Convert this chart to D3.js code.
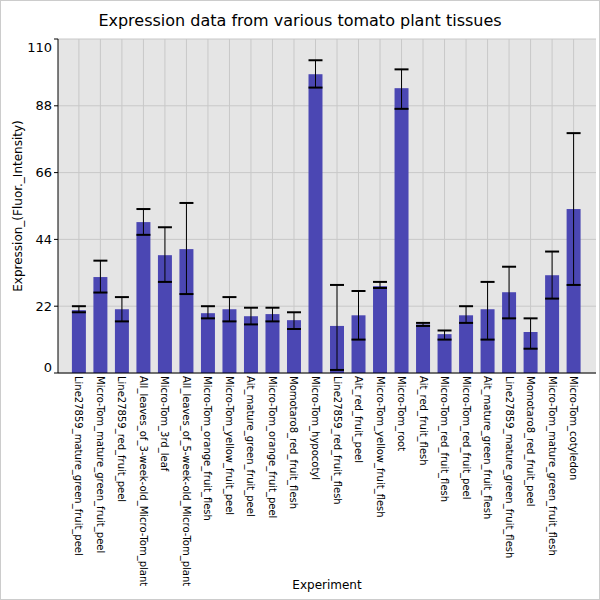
<!DOCTYPE html><html><head><script src="https://cdn.jsdelivr.net/npm/d3@7"></script>
<style>body{margin:0}svg{font-family:"DejaVu Sans",sans-serif}</style></head><body><script>
const categories=["Line27859_mature_green_fruit_peel","Micro-Tom_mature_green_fruit_peel","Line27859_red_fruit_peel","All_leaves_of_3-week-old_Micro-Tom_plant","Micro-Tom_3rd_leaf","All_leaves_of_5-week-old_Micro-Tom_plant","Micro-Tom_orange_fruit_flesh","Micro-Tom_yellow_fruit_peel","Ait_mature_green_fruit_peel","Micro-Tom_orange_fruit_peel","Momotaro8_red_fruit_flesh","Micro-Tom_hypocotyl","Line27859_red_fruit_flesh","Ait_red_fruit_peel","Micro-Tom_yellow_fruit_flesh","Micro-Tom_root","Ait_red_fruit_flesh","Micro-Tom_red_fruit_flesh","Micro-Tom_red_fruit_peel","Ait_mature_green_fruit_flesh","Line27859_mature_green_fruit_flesh","Momotaro8_red_fruit_peel","Micro-Tom_mature_green_fruit_flesh","Micro-Tom_cotyledon"];
const values=[20.7,31.6,21,49.7,38.8,40.8,19.7,21,18.7,19.4,17.4,98.4,15.5,19,28.6,93.8,16,12.8,19,21,26.6,13.5,32.2,54];
const errLow=[20,26.5,17,45.5,30,26,18,17,16,17,14.5,94,1,11,28,87,15.5,11,16.5,11,18,8,24.5,29];
const errHigh=[22,37,25,54,48,56,22,25,21.5,21.5,20,103,29,27,30,100,16.5,14,22,30,35,18,40,79];
const yTicks=[0,22,44,66,88,110];
const W=600,H=600,L=58,R=596,T=39,B=373;
const svg=d3.select("body").append("svg").attr("width",W).attr("height",H);
svg.append("rect").attr("x",0.5).attr("y",0.5).attr("width",W-1).attr("height",H-1).attr("fill","#fff").attr("stroke","#ccc");
svg.append("rect").attr("x",L).attr("y",T).attr("width",R-L).attr("height",B-T).attr("fill","#e5e5e5");
const x=d3.scaleBand().domain(categories).range([68.25,584.25]).paddingInner(0.35).paddingOuter(0.17);
const y=d3.scaleLinear().domain([0,110]).range([B,T]);
const g=svg.append("g");
yTicks.forEach(t=>g.append("line").attr("x1",L).attr("x2",R).attr("y1",y(t)).attr("y2",y(t)).attr("stroke","#c8c8c8"));
categories.forEach(c=>g.append("line").attr("x1",x(c)+x.bandwidth()/2).attr("x2",x(c)+x.bandwidth()/2).attr("y1",T).attr("y2",B).attr("stroke","#c8c8c8"));
svg.selectAll(".bar").data(categories).join("rect").attr("x",d=>x(d)).attr("width",x.bandwidth())
 .attr("y",(d,i)=>y(values[i])).attr("height",(d,i)=>B-y(values[i])).attr("fill","#4b47b3");
categories.forEach((c,i)=>{const cx=x(c)+x.bandwidth()/2;
 svg.append("line").attr("x1",cx).attr("x2",cx).attr("y1",y(errLow[i])).attr("y2",y(errHigh[i])).attr("stroke","#000");
 [errLow[i],errHigh[i]].forEach(v=>svg.append("line").attr("x1",cx-7).attr("x2",cx+7).attr("y1",y(v)).attr("y2",y(v)).attr("stroke","#000").attr("stroke-width",2));});
svg.append("line").attr("x1",L).attr("x2",L).attr("y1",T).attr("y2",B).attr("stroke","#000");
svg.append("line").attr("x1",L).attr("x2",R).attr("y1",B).attr("y2",B).attr("stroke","#000");
yTicks.forEach(t=>{const yy=t===0?y(t)-6:t===110?y(t)+8:y(t);
 svg.append("line").attr("x1",L-4).attr("x2",L).attr("y1",y(t)).attr("y2",y(t)).attr("stroke","#000");
 svg.append("text").attr("x",L-6).attr("y",yy).attr("dy","0.35em").attr("text-anchor","end").attr("font-size",13).text(t);});
categories.forEach(c=>{const cx=x(c)+x.bandwidth()/2;
 svg.append("text").attr("transform",`translate(${cx},${B+3}) rotate(90)`).attr("dy","0.35em").attr("font-size",10).text(c);});
svg.append("text").attr("x",W/2).attr("y",26).attr("text-anchor","middle").attr("font-size",16).text("Expression data from various tomato plant tissues");
svg.append("text").attr("x",327).attr("y",589).attr("text-anchor","middle").attr("font-size",12).text("Experiment");
svg.append("text").attr("transform",`translate(22,${(T+B)/2}) rotate(-90)`).attr("text-anchor","middle").attr("font-size",12).text("Expression_(Fluor._Intensity)");
</script></body></html>
